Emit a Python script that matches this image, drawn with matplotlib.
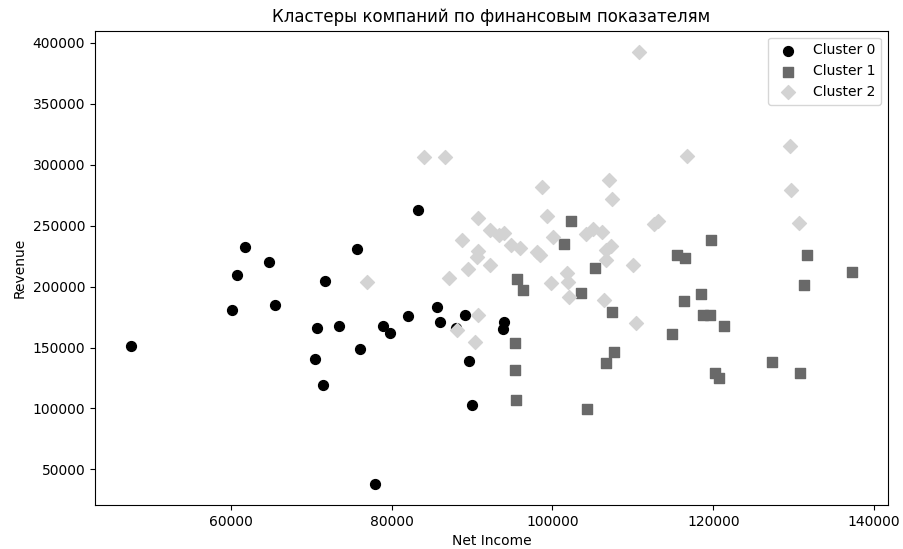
import numpy as np
import matplotlib.pyplot as plt

# cluster 0
c0_income = [47600, 61800, 60800, 64700, 60200, 65500, 75700, 71700, 70700, 73500,
             70500, 71500, 76100, 78900, 79800, 82000, 78000, 83300, 85700, 86000,
             89100, 89600, 90000, 94000, 93800, 88000]
c0_revenue = [151000, 232000, 209500, 220000, 181000, 184500, 231000, 204500, 166000, 167500,
              140500, 119500, 149000, 167500, 161500, 176000, 38500, 263000, 183500, 171000,
              177000, 139000, 102500, 170500, 165000, 166000]

# cluster 1
c1_income = [102300, 101400, 105300, 103500, 107400, 115500, 116500, 118500, 116400, 118700,
             119600, 121300, 114900, 107600, 106600, 95600, 96300, 95300, 95300, 95500,
             104300, 120200, 120700, 127300, 130800, 131300, 131700, 137200, 119700]
c1_revenue = [254000, 234500, 215000, 195000, 179000, 226000, 223000, 193500, 188500, 176500,
              176500, 168000, 161000, 146500, 137500, 206500, 197500, 153500, 131500, 107000,
              99500, 129000, 125000, 138500, 129000, 201500, 225500, 211500, 238500]

# cluster 2
c2_income = [77000, 84000, 86600, 98700, 99300, 90800, 92200, 93300, 94000, 88800,
             100100, 90800, 90600, 94900, 96000, 98100, 98500, 89500, 92200, 87100,
             99800, 90800, 88100, 90400, 116700, 107000, 107400, 112600, 113100, 104200,
             105000, 106100, 107300, 106700, 106700, 110000, 101800, 101900, 102000, 106400,
             110400, 129500, 129700, 130600, 110800]
c2_revenue = [204000, 306000, 306000, 281500, 258000, 256500, 246000, 242500, 244000, 238000,
              240500, 229000, 224500, 234000, 231500, 228000, 225500, 214500, 218000, 207000,
              203000, 177000, 164000, 154500, 307000, 287500, 271500, 251000, 254000, 243000,
              247000, 245000, 233000, 230000, 222000, 217500, 211000, 204000, 191000, 189000,
              170000, 315500, 279000, 252000, 392000]

clusters = [
    ('Cluster 0', c0_income, c0_revenue, 'black', 'o'),
    ('Cluster 1', c1_income, c1_revenue, 'dimgray', 's'),
    ('Cluster 2', c2_income, c2_revenue, 'lightgray', 'D'),
]

fig, ax = plt.subplots(figsize=(9.04, 5.49), dpi=100)
fig.subplots_adjust(left=0.105, right=0.982, top=0.944, bottom=0.08)

for name, xs, ys, col, mk in clusters:
    ax.scatter(xs, ys, c=col, marker=mk, s=50, label=name)

ax.set_title('Кластеры компаний по финансовым показателям')
ax.set_xlabel('Net Income')
ax.set_ylabel('Revenue')
ax.legend(loc='upper right')

fig.savefig('out.png')
